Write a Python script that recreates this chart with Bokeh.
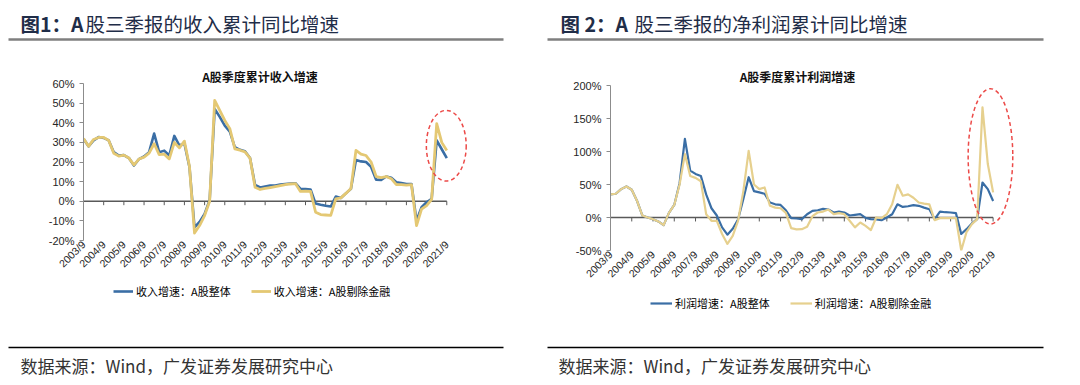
import math
from bokeh.plotting import figure
from bokeh.models import (Range1d, FixedTicker, Legend, LegendItem,
                          PrintfTickFormatter, ColumnDataSource)
from bokeh.core.properties import value
from bokeh.embed import file_html
from bokeh.resources import INLINE

# ---------------- data ----------------
QUARTERS = [f"{2003 + (k + 2) // 4}/{[3, 6, 9, 12][(k + 2) % 4]}" for k in range(73)]  # 2003/9 ... 2021/9
TICK_INDEX = [0, 4, 8, 12, 16, 20, 24, 28, 32, 36, 40, 44, 48, 52, 56, 60, 64, 68, 72]
TICK_LABELS = ["2003/9", "2004/9", "2005/9", "2006/9", "2007/9", "2008/9", "2009/9",
               "2010/9", "2011/9", "2012/9", "2013/9", "2014/9", "2015/9", "2016/9",
               "2017/9", "2018/9", "2019/9", "2020/9", "2021/9"]

# 收入累计同比增速 (%)
REV_ALL = [31.8, 28.0, 31.0, 32.7, 32.3, 31.0, 25.0, 23.3, 23.5, 22.0,
           18.2, 21.5, 22.8, 25.0, 34.5, 25.0, 25.8, 23.3, 33.3, 28.4,
           29.5, 17.5, -13.3, -10.5, -6.5, 0.5, 47.0, 43.0, 38.5, 35.5,
           27.5, 26.2, 25.5, 22.0, 8.3, 7.0, 7.5, 8.0, 8.0, 8.5,
           8.8, 9.0, 9.2, 6.3, 6.2, 6.0, -1.2, -1.8, -2.3, -2.7,
           2.4, 1.7, 4.0, 6.3, 21.0, 20.3, 20.0, 17.5, 11.0, 10.9,
           12.6, 12.0, 9.7, 9.3, 8.8, 8.8, -9.9, -3.0, -0.5, 1.2,
           31.0, 26.5, 22.0]
REV_EXFIN = [32.0, 28.0, 31.5, 32.5, 32.5, 31.0, 24.5, 23.0, 23.5, 22.0,
             18.5, 21.5, 22.5, 24.5, 29.3, 23.8, 24.0, 21.6, 30.0, 27.2,
             30.6, 17.8, -16.2, -12.4, -7.3, 0.0, 51.4, 46.3, 41.2, 37.0,
             26.7, 26.0, 25.2, 22.0, 7.1, 6.0, 6.5, 7.0, 7.5, 8.0,
             8.5, 8.8, 9.0, 5.0, 5.2, 5.0, -5.6, -6.8, -7.0, -7.2,
             1.2, 1.7, 4.0, 6.5, 25.9, 24.0, 23.3, 20.0, 12.6, 12.0,
             12.6, 11.5, 8.5, 8.5, 8.2, 8.5, -12.4, -4.0, -2.2, 1.0,
             39.5, 30.0, 25.9]

# 净利润累计同比增速 (%)
PROFIT_ALL = [35, 36, 43, 47, 42, 25, 3, 0, -2.5, -6,
              -11.6, 7, 19, 52, 119, 71, 66, 63, 35, 14,
              3, -15, -26, -17, -3, 28, 61, 40, 38, 36,
              22.7, 20, 19, 11, -1, -1.5, -2.5, 5, 10, 11,
              13, 12, 7.6, 9, 7.6, 3, 4, 5, -0.5, -2.5,
              -3, -4, 0, 5, 20, 16, 17, 18.7, 17.7, 15,
              12.6, -2.5, 9, 8, 7.6, 6.6, -25, -17.7, -9, -2.5,
              53, 43, 25]
PROFIT_EXFIN = [35, 36, 43, 47, 42, 25, 3, 0, -2.5, -6,
                -11.6, 7, 19, 50, 96, 63, 60, 55, 5, -5,
                -5, -25, -40, -28, -5, 40, 101, 50, 43, 45.5,
                17.7, 15, 14, 7, -16, -18, -17.7, -14, 2, 7.6,
                9, 12, 5, 6.6, 5, -5, -15, -7.6, -12.6, -19,
                0, -1, 5, 20, 49.5, 33, 35, 30, 22.7, 21,
                20, -4, -1, -1, -1, -1, -50, -22, -10, -2.5,
                167, 81, 38]

# highlight ellipses (quarter index, %): centre x, centre y, width, height
HL_REV = (71.9, 28.3, 7.9, 36.0)
HL_PROFIT = (71.5, 92.7, 8.4, 205.0)

# ---------------- style ----------------
CJK = "Noto Sans CJK SC"
LAT = "Liberation Sans"
BLUE = "#3A6EA5"
RED = "#EC4A48"
HEAD_COLOR = "#1F2D48"


def place(left, top):
    return {"position": "absolute", "left": f"{left}px", "top": f"{top}px"}


def clear(p):
    p.grid.visible = False
    p.outline_line_color = None
    p.border_fill_color = None
    p.background_fill_color = None


def deco(width, height, left, top):
    p = figure(width=width, height=height, x_range=Range1d(0, width), y_range=Range1d(height, 0),
               toolbar_location=None, output_backend="svg", min_border=0,
               x_axis_location=None, y_axis_location=None, styles=place(left, top))
    clear(p)
    return p


def header(left, bold_part, rest, x_text, x_rest, x_line0, x_line1, title, title_x):
    p = deco(540, 90, left, 0)
    p.text(x=[x_text], y=[23], text=[bold_part], text_font=value(CJK), text_font_size="19.5px",
           text_font_style="bold", text_color=HEAD_COLOR, text_baseline="middle")
    p.text(x=[x_rest], y=[23], text=[rest], text_font=value(CJK), text_font_size="19.5px",
           text_color=HEAD_COLOR, text_baseline="middle")
    p.segment(x0=[x_line0], y0=[39], x1=[x_line1], y1=[39], line_color="#7F7F7F", line_width=2.5)
    # inner chart title
    p.text(x=[title_x], y=[76], text=[title], text_font=value(CJK), text_font_size="12px",
           text_font_style="bold", text_color="#111111", text_baseline="middle",
           text_align="center")
    return p


def bottom(left, cfg, x_text, x_line0, x_line1):
    # legend + source note
    p = deco(540, 110, left, 275)
    # swatch renderers for the legend (single point: the line itself draws nothing)
    sw = ColumnDataSource(dict(x=[0], y=[0]))
    d1 = p.line("x", "y", source=sw, line_color=BLUE, line_width=cfg["lw"][0])
    d2 = p.line("x", "y", source=sw, line_color=cfg["yellow"], line_width=cfg["lw"][1])
    leg = Legend(items=[LegendItem(label=cfg["names"][0], renderers=[d1]),
                        LegendItem(label=cfg["names"][1], renderers=[d2])],
                 orientation="horizontal", location=cfg["legend_loc"], margin=0, padding=0,
                 spacing=20, label_standoff=3, glyph_width=cfg["glyph_w"], glyph_height=12,
                 label_height=12, label_text_font=CJK, label_text_font_size="11px",
                 label_text_color="#000000", border_line_color=None, background_fill_alpha=0)
    p.add_layout(leg, "center")
    p.segment(x0=[x_line0], y0=[72], x1=[x_line1], y1=[72], line_color="#000000", line_width=1.3)
    p.text(x=[x_text], y=[90], text=["数据来源：Wind，广发证券发展研究中心"], text_font=value(CJK),
           text_font_size="17px", text_color="#333333", text_baseline="middle")
    return p


def chart(cfg):
    W, H = 540, 240
    fl, fr, ft, fb = cfg["frame"]          # frame left/right/top/bottom in figure px
    src = ColumnDataSource(dict(x=list(range(len(cfg["all"]))), a=cfg["all"], e=cfg["ex"]))
    p = figure(width=W, height=H, x_range=Range1d(0, cfg["xend"]),
               y_range=Range1d(*cfg["yr"]), toolbar_location=None, output_backend="svg",
               min_border_left=fl, min_border_right=W - fr, min_border_top=ft,
               min_border_bottom=H - fb, styles=place(cfg["left"], 50))
    clear(p)

    # y axis
    ya = p.yaxis[0]
    ya.ticker = FixedTicker(ticks=list(range(cfg["yr"][0], cfg["yr"][1] + 1, cfg["ystep"])))
    ya.formatter = PrintfTickFormatter(format="%d%%")
    ya.axis_line_color = "#8C8C8C"
    ya.major_tick_line_color = "#8C8C8C"
    ya.major_tick_out = 4
    ya.major_tick_in = 0
    ya.minor_tick_line_color = None
    ya.major_label_text_font = LAT
    ya.major_label_text_font_size = "11px"
    ya.major_label_text_color = "#262626"
    ya.major_label_standoff = 5

    # x axis (labels only, at bottom of the frame)
    xa = p.xaxis[0]
    xa.ticker = FixedTicker(ticks=TICK_INDEX)
    xa.major_label_overrides = {t: l for t, l in zip(TICK_INDEX, TICK_LABELS)}
    xa.major_label_orientation = math.pi / 4
    xa.axis_line_color = None
    xa.major_tick_line_color = None
    xa.major_tick_out = 0
    xa.major_tick_in = 0
    xa.minor_tick_line_color = None
    xa.major_label_text_font = LAT
    xa.major_label_text_font_size = "10.5px"
    xa.major_label_text_color = "#262626"
    xa.major_label_standoff = 2

    # zero line with downward tick marks
    last = len(cfg["all"]) - 1
    p.segment(x0=[0], y0=[0], x1=[last], y1=[0], line_color="#595959", line_width=1.3)
    tl = cfg["tick_len"]
    p.segment(x0=TICK_INDEX, y0=[0] * len(TICK_INDEX), x1=TICK_INDEX,
              y1=[-tl] * len(TICK_INDEX), line_color="#595959", line_width=1)

    p.line("x", "a", source=src, line_color=BLUE, line_width=cfg["lw"][0], line_join="round")
    p.line("x", "e", source=src, line_color=cfg["yellow"], line_width=cfg["lw"][1],
           line_join="round")

    hl = cfg["hl"]
    p.ellipse(x=[hl[0]], y=[hl[1]], width=[hl[2]], height=[hl[3]], fill_color=None,
              line_color=RED, line_width=1.5, line_dash="4 3")
    return p


LEFT = dict(left=0, frame=(83, 470, 33, 190), xend=76.7, yr=(-20, 60), ystep=10,
            tick_len=2.0, all=REV_ALL, ex=REV_EXFIN, lw=(2.6, 2.8), yellow="#E4C873",
            hl=HL_REV, names=["收入增速：A股整体", "收入增速：A股剔除金融"],
            legend_loc=(113, 86), glyph_w=20)
RIGHT = dict(left=540, frame=(70, 476, 35, 200), xend=76.4, yr=(-50, 200), ystep=50,
             tick_len=6.0, all=PROFIT_ALL, ex=PROFIT_EXFIN, lw=(2.2, 2.2), yellow="#E6D08E",
             hl=HL_PROFIT, names=["利润增速：A股整体", "利润增速：A股剔除金融"],
             legend_loc=(110, 74), glyph_w=22)

roots = [
    header(0, "图1：A", "股三季报的收入累计同比增速", 20, 85, 8, 503, "A股季度累计收入增速", 259.5),
    chart(LEFT),
    bottom(0, LEFT, 20, 8, 503),
    header(540, "图 2：A", "股三季报的净利润累计同比增速", 20, 94, 7, 503, "A股季度累计利润增速", 257),
    chart(RIGHT),
    bottom(540, RIGHT, 18, 7, 503),
]
open("out.html", "w").write(file_html(roots, INLINE))
